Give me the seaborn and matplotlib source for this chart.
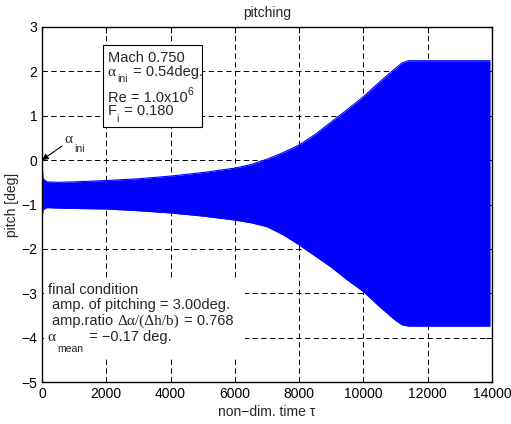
import matplotlib
matplotlib.use("Agg")
import matplotlib.pyplot as plt
import seaborn as sns
from matplotlib.patches import Rectangle

# ---- data (envelope of the pitching response) ----
tau = [0, 30, 150, 500, 1000, 2000, 3000, 4000, 5000, 6000, 6500, 7000, 7500,
       8000, 8500, 9000, 9500, 10000, 10500, 11000, 11200, 11400, 12000, 13000, 13940]
upper = [0.0, -0.42, -0.49, -0.50, -0.49, -0.46, -0.42, -0.36, -0.28, -0.18, -0.10, 0.02, 0.17,
         0.34, 0.58, 0.86, 1.14, 1.43, 1.76, 2.07, 2.19, 2.24, 2.24, 2.24, 2.24]
lower = [-1.33, -1.12, -1.07, -1.08, -1.09, -1.10, -1.14, -1.19, -1.26, -1.35, -1.41, -1.50, -1.68,
         -1.91, -2.16, -2.41, -2.70, -2.96, -3.30, -3.61, -3.71, -3.74, -3.74, -3.74, -3.74]
xticks = [0, 2000, 4000, 6000, 8000, 10000, 12000, 14000]
yticks = [-5, -4, -3, -2, -1, 0, 1, 2, 3]

sns.set_style("white")
plt.rcParams['font.family'] = ['Liberation Sans', 'DejaVu Sans']
plt.rcParams['axes.unicode_minus'] = True

W, H = 511, 424
fig = plt.figure(figsize=(W / 100, H / 100), dpi=100)
ax = fig.add_axes([42 / W, 1 - 382 / H, 450 / W, 355 / H])

ax.fill_between(tau, lower, upper, color=(0, 0, 1), lw=0, zorder=2)
sns.lineplot(x=tau, y=upper, color=(0, 0, 1), lw=0.8, ax=ax, zorder=2)
sns.lineplot(x=tau, y=lower, color=(0, 0, 1), lw=0.8, ax=ax, zorder=2)

ax.set_xlim(0, 14000)
ax.set_ylim(-5, 3)
ax.set_xticks(xticks)
ax.set_yticks(yticks)
ax.set_axisbelow(True)
ax.grid(True, color='black', linestyle=(0, (5.5, 3.5)), linewidth=0.7)
ax.tick_params(direction='in', top=True, right=True, length=4, width=0.8,
               labelsize=10, pad=3.5, colors='black')
for s in ax.spines.values():
    s.set_color('black')
    s.set_linewidth(1.0)

ax.set_title('pitching', fontsize=10, pad=7)
ax.set_xlabel('non\u2212dim. time \u03c4', fontsize=10, labelpad=3)
ax.set_ylabel('pitch [deg]', fontsize=10)
ax.yaxis.set_label_coords(-0.052, 0.5)

SANS = ['Liberation Sans', 'DejaVu Sans']
SERIF = ['Liberation Serif', 'DejaVu Serif']
renderer = fig.canvas.get_renderer()


def line(px, py, pieces, size=10.5, sub_dy=6.5):
    """Place text pieces one after another on a baseline at pixel (px, py).
    pieces: (text, kind) with kind in 'n' (normal), 'g' (serif greek),
    'sub' (subscript), 'sup' (superscript)."""
    x = px
    for s, kind in pieces:
        fam, fs, dy = SANS, size, 0
        if kind == 'g':
            fam, fs = SERIF, size + 0.5
        elif kind == 'sub':
            fs, dy = 7.5, sub_dy
        elif kind == 'sup':
            fs, dy = 7.5, -6.5
        t = fig.text(x / W, 1 - (py + dy) / H, s, fontsize=fs, family=fam,
                     ha='left', va='baseline')
        bb = t.get_window_extent(renderer=renderer)
        x += bb.width + (1.5 if kind in ('sub', 'sup', 'g') else 0)


# ---- parameter box ----
fig.add_artist(Rectangle((103.3 / W, 1 - 127.3 / H), 98.4 / W, 82.3 / H,
                         transform=fig.transFigure, facecolor='white',
                         edgecolor='black', lw=0.8))
line(107.5, 61.7, [('Mach 0.750', 'n')])
line(107.5, 76, [('\u03b1', 'g'), ('ini', 'sub'), (' = 0.54deg.', 'n')])
line(107.5, 101.7, [('Re = 1.0x10', 'n'), ('6', 'sup')])
line(107.5, 115, [('F', 'n'), ('i', 'sub'), (' = 0.180', 'n')])

# ---- alpha_ini annotation ----
ax.annotate('', xy=(0, 0), xycoords='data', xytext=(62, H - 146),
            textcoords='figure pixels',
            arrowprops=dict(arrowstyle='-|>', color='black', lw=0.8,
                            mutation_scale=9, shrinkA=0, shrinkB=0))
line(64.5, 143, [('\u03b1', 'g'), ('ini', 'sub')], sub_dy=9)

# ---- final condition text ----
fig.add_artist(Rectangle((44 / W, 1 - 358 / H), 201 / W, 78 / H,
                         transform=fig.transFigure, facecolor='white',
                         edgecolor='none'))
line(47.7, 294.3, [('final condition', 'n')])
line(51.7, 309, [('amp. of pitching = 3.00deg.', 'n')])
line(51.7, 325, [('amp.ratio ', 'n'), ('\u0394\u03b1/(\u0394h/b)', 'g'), (' = 0.768', 'n')])
line(47.7, 341, [('\u03b1', 'g'), ('mean', 'sub'), (' = \u22120.17 deg.', 'n')], sub_dy=11.5)

fig.savefig('out.png', dpi=100)
